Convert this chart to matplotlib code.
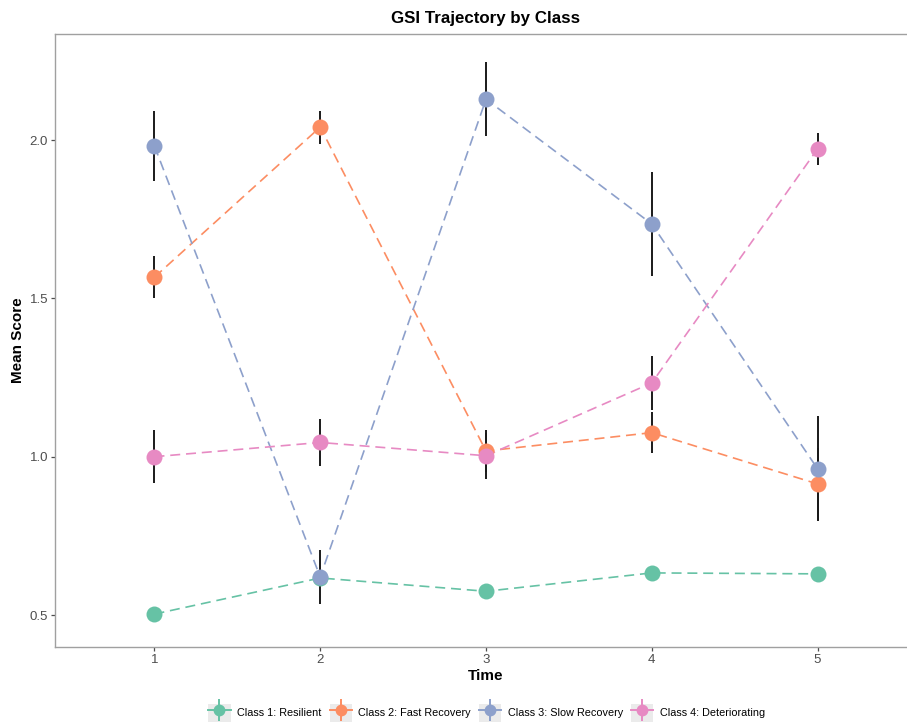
"""
GSI trajectory by latent class: mean score over time with error bars.
"""

import matplotlib.pyplot as plt
from matplotlib.lines import Line2D
from matplotlib.patches import Rectangle
from matplotlib.legend_handler import HandlerTuple

# Data
times = [1, 2, 3, 4, 5]
class_names = ['Class 1: Resilient', 'Class 2: Fast Recovery',
               'Class 3: Slow Recovery', 'Class 4: Deteriorating']
colors = ['#66c2a5', '#fc8d62', '#8da0cb', '#e78ac3']

c1_mean = [0.503, 0.617, 0.575, 0.633, 0.630]
c1_err = [0.012, 0.015, 0.012, 0.012, 0.012]
c2_mean = [1.567, 2.041, 1.018, 1.076, 0.914]
c2_err = [0.066, 0.052, 0.066, 0.065, 0.115]
c3_mean = [1.981, 0.620, 2.129, 1.735, 0.962]
c3_err = [0.110, 0.085, 0.117, 0.164, 0.165]
c4_mean = [1.000, 1.045, 1.003, 1.233, 1.972]
c4_err = [0.084, 0.075, 0.072, 0.085, 0.050]

means = [c1_mean, c2_mean, c3_mean, c4_mean]
errs = [c1_err, c2_err, c3_err, c4_err]

plt.rcParams['font.family'] = ['Liberation Sans', 'DejaVu Sans']

fig = plt.figure(figsize=(9.07, 7.22), dpi=100)
# panel runs past the right edge of the picture, as in the reference
ax = fig.add_axes([55 / 907, 75 / 722, 862 / 907, 613 / 722])

# error bars first (black), then dashed lines and points
for m, e in zip(means, errs):
    ax.errorbar(times, m, yerr=e, fmt='none', ecolor='#1a1a1a', elinewidth=1.4,
                capsize=0, zorder=2)
for m, c in zip(means, colors):
    ax.plot(times, m, linestyle=(0, (6, 3.5)), color=c, linewidth=1.2, zorder=3)
    ax.plot(times, m, 'o', color=c, markersize=11.5, markeredgewidth=0, zorder=4)

ax.set_xlim(0.4, 5.6)
ax.set_ylim(0.399, 2.335)
ax.set_xticks(times)
ax.set_yticks([0.5, 1.0, 1.5, 2.0])
ax.set_yticklabels(['0.5', '1.0', '1.5', '2.0'])

for s in ax.spines.values():
    s.set_color('#a0a0a0')
    s.set_linewidth(1.0)
ax.tick_params(colors='#4d4d4d', labelcolor='#4d4d4d', labelsize=9.5,
               length=2.75, width=0.9, pad=2.2)

ax.set_xlabel('Time', fontsize=11, fontweight='bold', labelpad=2)
ax.set_ylabel('Mean Score', fontsize=11, fontweight='bold', labelpad=3.5)
fig.text((55 + 917) / 2 / 907, 1 - 18 / 722, 'GSI Trajectory by Class',
         ha='center', va='center', fontsize=12.2, fontweight='bold')

# legend keys: grey box, point, short line and vertical bar
handles = []
for c in colors:
    box = Rectangle((0, 0), 1, 1, facecolor='#ebebeb', edgecolor='none')
    pt = Line2D([], [], color=c, marker='o', markersize=8.5, linewidth=1.4,
                markeredgewidth=0)
    vbar = Line2D([], [], color=c, marker='|', markersize=16,
                  markeredgewidth=1.4, linestyle='none')
    handles.append((box, vbar, pt))

fig.legend(handles, class_names, loc='center', bbox_to_anchor=(0.5365, 1 - 713 / 722),
           ncol=4, frameon=False, fontsize=7.8, handlelength=2.05, handleheight=2.05,
           handletextpad=0.6, columnspacing=0.75, borderpad=0.1,
           handler_map={tuple: HandlerTuple(ndivide=1, pad=0)})

fig.savefig('out.png', dpi=100)
